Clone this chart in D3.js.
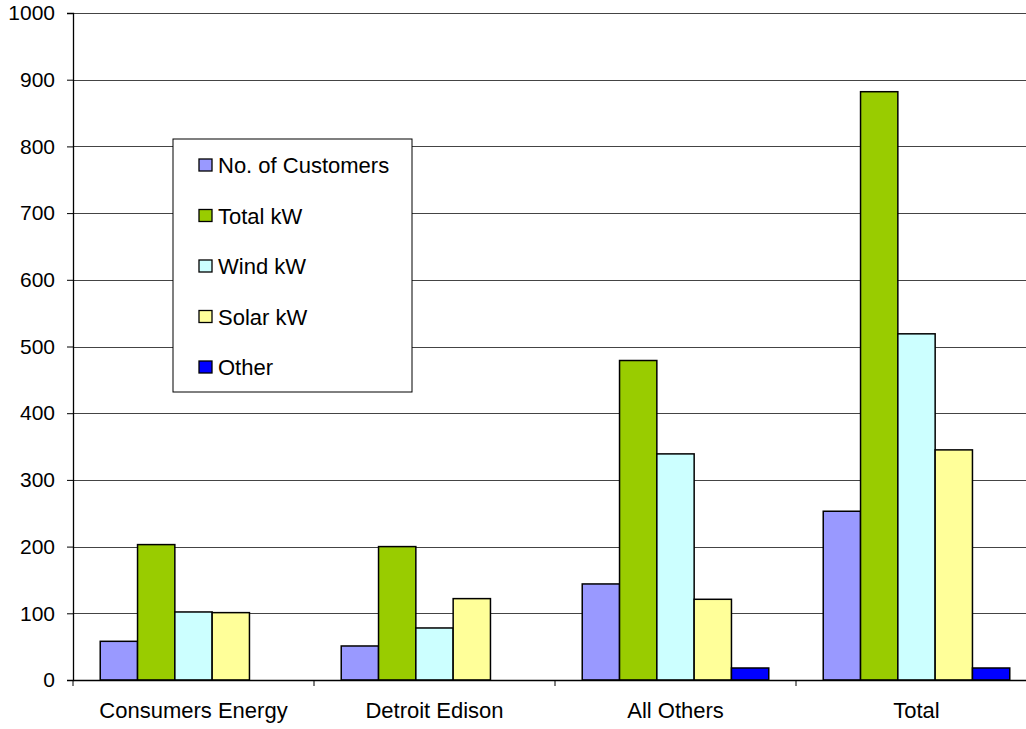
<!DOCTYPE html>
<html>
<head>
<meta charset="utf-8">
<script src="https://cdn.jsdelivr.net/npm/d3@7"></script>
<style>
  body { margin: 0; background: #fff; }
  svg { display: block; font-family: "Liberation Sans", Arial, sans-serif; }
</style>
</head>
<body>
<div class="graph"></div>
<script>
const categories = ['Consumers Energy', 'Detroit Edison', 'All Others', 'Total'];
const seriesNames = ['No. of Customers', 'Total kW', 'Wind kW', 'Solar kW', 'Other'];
const customers = [58, 51, 144, 253];
const totalKW = [203, 200, 479, 882];
const windKW = [102, 78, 339, 519];
const solarKW = [101, 122, 121, 345];
const other = [0, 0, 18, 18];
const yTicks = [0, 100, 200, 300, 400, 500, 600, 700, 800, 900, 1000];
const colors = ['#9999ff', '#99cc00', '#ccffff', '#ffff99', '#0000ff'];

const seriesValues = [customers, totalKW, windKW, solarKW, other];
const data = categories.map((c, i) => ({
    cat: c,
    values: seriesNames.map((s, j) => ({ key: s, value: seriesValues[j][i] }))
}));

const width = 1026, height = 729;
const margin = { top: 13, left: 73, bottom: 49, right: -11 };
const chartWidth = width - margin.left - margin.right;
const chartHeight = height - margin.top - margin.bottom;

const svg = d3.select('.graph')
    .append('svg')
    .attr('width', width)
    .attr('height', height);

const chart = svg.append('g')
    .attr('transform', `translate(${margin.left},${margin.top})`);

const x0 = d3.scaleBand()
    .domain(categories)
    .range([0, chartWidth]);
const x1 = d3.scaleBand()
    .domain(seriesNames)
    .range([0, x0.bandwidth()])
    .paddingOuter(0.73);
const y = d3.scaleLinear()
    .domain([0, 1000])
    .range([chartHeight, 0]);
const color = d3.scaleOrdinal().domain(seriesNames).range(colors);

// gridlines
chart.append('g')
    .selectAll('line')
    .data(yTicks.slice(1))
    .enter()
    .append('line')
    .attr('x1', 0)
    .attr('x2', chartWidth)
    .attr('y1', d => Math.round(y(d)) + 0.5)
    .attr('y2', d => Math.round(y(d)) + 0.5)
    .attr('stroke', '#444')
    .attr('stroke-width', 1);

// bars
chart.selectAll('.group')
    .data(data)
    .enter()
    .append('g')
    .attr('transform', d => `translate(${x0(d.cat)},0)`)
    .selectAll('rect')
    .data(d => d.values.filter(v => v.value > 0))
    .enter()
    .append('rect')
    .attr('x', d => x1(d.key))
    .attr('y', d => y(d.value))
    .attr('width', x1.bandwidth())
    .attr('height', d => chartHeight - y(d.value))
    .attr('fill', d => color(d.key))
    .attr('stroke', '#000')
    .attr('stroke-width', 1.5);

// axes
const yAxis = d3.axisLeft(y)
    .tickValues(yTicks)
    .tickFormat(d3.format('d'))
    .tickSize(6)
    .tickPadding(12);
chart.append('g')
    .classed('y axis', true)
    .call(yAxis)
    .call(g => g.select('.domain').attr('stroke', '#000').attr('stroke-width', 1.3))
    .call(g => g.selectAll('.tick line').attr('stroke', '#000'))
    .call(g => g.selectAll('.tick text').attr('fill', '#000').style('font-size', '21px').attr('font-family', null));

const xAxis = d3.axisBottom(x0)
    .tickSize(0)
    .tickPadding(22);
const xg = chart.append('g')
    .classed('x axis', true)
    .attr('transform', `translate(0,${chartHeight})`)
    .call(xAxis)
    .call(g => g.select('.domain').attr('stroke', '#000').attr('stroke-width', 1.3))
    .call(g => g.selectAll('.tick text').attr('fill', '#000').style('font-size', '22px').attr('font-family', null));

// category separators
xg.selectAll('.sep')
    .data(categories)
    .enter()
    .append('line')
    .attr('x1', d => x0(d))
    .attr('x2', d => x0(d))
    .attr('y1', 0)
    .attr('y2', 6)
    .attr('stroke', '#000');

// legend
const legend = svg.append('g')
    .attr('transform', 'translate(173,139)');
legend.append('rect')
    .attr('width', 239)
    .attr('height', 253)
    .attr('fill', '#fff')
    .attr('stroke', '#000')
    .attr('stroke-width', 1);
const item = legend.selectAll('.item')
    .data(seriesNames)
    .enter()
    .append('g')
    .attr('transform', (d, i) => `translate(26,${26 + i * 50.5})`);
item.append('rect')
    .attr('x', 0)
    .attr('y', -6)
    .attr('width', 13)
    .attr('height', 12)
    .attr('fill', d => color(d))
    .attr('stroke', '#000')
    .attr('stroke-width', 1.3);
item.append('text')
    .attr('x', 19)
    .attr('y', 8)
    .style('font-size', '22px')
    .text(d => d);
</script>
</body>
</html>
